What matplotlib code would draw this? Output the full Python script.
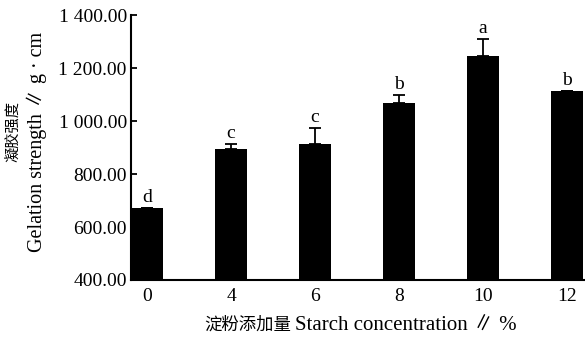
import matplotlib
matplotlib.use('Agg')
from matplotlib import pyplot as plt
import numpy as np

plt.rcParams['font.family'] = ['Liberation Serif', 'Noto Sans CJK SC', 'DejaVu Sans']
plt.rcParams['axes.unicode_minus'] = False

concentrations = ['0', '4', '6', '8', '10', '12']
means = [670, 893, 913, 1069, 1246, 1114]
errors = [3, 19, 59, 30, 65, 0]
letters = ['d', 'c', 'c', 'b', 'a', 'b']
yticks = [400, 600, 800, 1000, 1200, 1400]


def fmt(v):
    s = '{:,.2f}'.format(v)
    return s.replace(',', ' ')


fig = plt.figure(figsize=(5.85, 3.43), dpi=100)
ax = fig.add_axes([0.224, 0.1837, 0.776, 0.7723])

x = np.arange(len(concentrations))
w = 0.381
ax.bar(x, means, width=w, color='black', zorder=2)
ax.errorbar(x, means, yerr=[np.zeros(len(means)), errors], fmt='none',
            ecolor='black', elinewidth=1.3, capsize=4, capthick=1.3, zorder=1)

for xi, m, e, lab in zip(x, means, errors, letters):
    ax.annotate(lab, (xi, m + e), xytext=(0, 1.5), textcoords='offset points',
                ha='center', va='bottom', fontsize=14)

ax.set_xlim(-w / 2, -w / 2 + 5.405)
ax.set_ylim(400, 1400)
ax.set_yticks(yticks)
ax.set_yticklabels([fmt(v) for v in yticks])
ax.set_xticks(x)
ax.set_xticklabels(concentrations)
ax.tick_params(axis='y', direction='in', length=4, width=1.3, labelsize=14, pad=3)
ax.tick_params(axis='x', length=0, labelsize=14, pad=6)

for s in ['top', 'right']:
    ax.spines[s].set_visible(False)
for s in ['left', 'bottom']:
    ax.spines[s].set_linewidth(1.5)

fig.text(0.023, 0.618, '凝胶强度', rotation=90, ha='center', va='center', fontsize=11)
fig.text(0.062, 0.585, 'Gelation strength ∥ g · cm', rotation=90, ha='center', va='center', fontsize=14.5)
fig.text(0.497, 0.052, '淀粉添加量', ha='right', va='center', fontsize=12.5)
fig.text(0.505, 0.052, 'Starch concentration ∥ %', ha='left', va='center', fontsize=15)

fig.savefig('out.png', dpi=100)
